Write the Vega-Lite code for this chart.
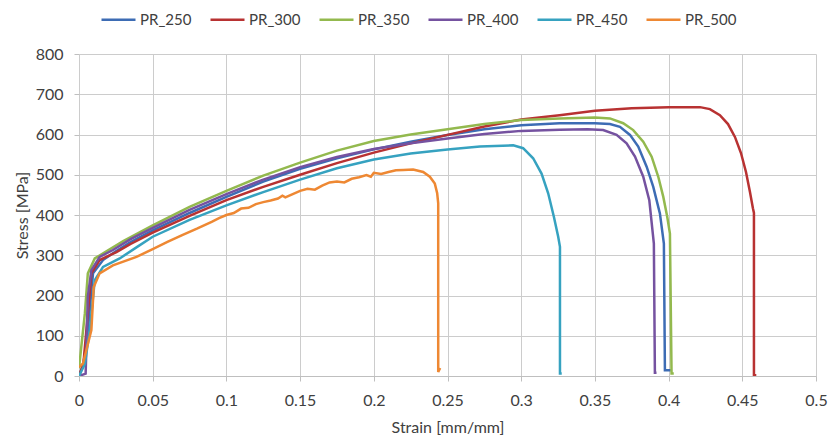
{
  "$schema": "https://vega.github.io/schema/vega-lite/v6.json",
  "width": 737,
  "height": 322,
  "autosize": {"type": "none"},
  "padding": {"left": 79, "top": 54, "right": 12, "bottom": 62},
  "background": "white",
  "config": {
    "view": {"stroke": null},
    "font": "Lato",
    "axis": {"labelFont": "Lato", "titleFont": "Lato", "labelFontSize": 16, "titleFontSize": 16, "titleFontWeight": "normal", "labelColor": "#404040", "titleColor": "#404040", "gridColor": "#cccccc", "domainColor": "#bfbfbf", "tickColor": "#bfbfbf", "tickSize": 5},
    "legend": {"labelFont": "Lato", "labelFontSize": 15, "labelColor": "#404040"}
  },
  "datasets": {
    "curves": [
      {"s":"PR_250","i":0,"x":0,"y":0},{"s":"PR_250","i":1,"x":0.003,"y":30},{"s":"PR_250","i":2,"x":0.006,"y":114},{"s":"PR_250","i":3,"x":0.0095,"y":255},{"s":"PR_250","i":4,"x":0.0163,"y":288},{"s":"PR_250","i":5,"x":0.025,"y":310},{"s":"PR_250","i":6,"x":0.035,"y":333},{"s":"PR_250","i":7,"x":0.05,"y":362},{"s":"PR_250","i":8,"x":0.075,"y":405},{"s":"PR_250","i":9,"x":0.1,"y":445},{"s":"PR_250","i":10,"x":0.125,"y":483},{"s":"PR_250","i":11,"x":0.15,"y":515},{"s":"PR_250","i":12,"x":0.175,"y":541},{"s":"PR_250","i":13,"x":0.2,"y":563},{"s":"PR_250","i":14,"x":0.225,"y":582},{"s":"PR_250","i":15,"x":0.25,"y":599},{"s":"PR_250","i":16,"x":0.275,"y":613},{"s":"PR_250","i":17,"x":0.3,"y":623},{"s":"PR_250","i":18,"x":0.326,"y":628},{"s":"PR_250","i":19,"x":0.35,"y":628},{"s":"PR_250","i":20,"x":0.3602,"y":626},{"s":"PR_250","i":21,"x":0.367,"y":619},{"s":"PR_250","i":22,"x":0.3738,"y":599},{"s":"PR_250","i":23,"x":0.3794,"y":570},{"s":"PR_250","i":24,"x":0.3851,"y":520},{"s":"PR_250","i":25,"x":0.3896,"y":470},{"s":"PR_250","i":26,"x":0.3941,"y":404},{"s":"PR_250","i":27,"x":0.3968,"y":329},{"s":"PR_250","i":28,"x":0.3975,"y":14},{"s":"PR_250","i":29,"x":0.4015,"y":14},

      {"s":"PR_300","i":0,"x":0,"y":0},{"s":"PR_300","i":1,"x":0.003,"y":30},{"s":"PR_300","i":2,"x":0.005,"y":114},{"s":"PR_300","i":3,"x":0.0084,"y":255},{"s":"PR_300","i":4,"x":0.014,"y":288},{"s":"PR_300","i":5,"x":0.0254,"y":308},{"s":"PR_300","i":6,"x":0.035,"y":328},{"s":"PR_300","i":7,"x":0.05,"y":356},{"s":"PR_300","i":8,"x":0.075,"y":398},{"s":"PR_300","i":9,"x":0.1,"y":437},{"s":"PR_300","i":10,"x":0.125,"y":470},{"s":"PR_300","i":11,"x":0.15,"y":500},{"s":"PR_300","i":12,"x":0.175,"y":529},{"s":"PR_300","i":13,"x":0.2,"y":555},{"s":"PR_300","i":14,"x":0.225,"y":578},{"s":"PR_300","i":15,"x":0.25,"y":599},{"s":"PR_300","i":16,"x":0.275,"y":620},{"s":"PR_300","i":17,"x":0.3,"y":637},{"s":"PR_300","i":18,"x":0.326,"y":648},{"s":"PR_300","i":19,"x":0.35,"y":659},{"s":"PR_300","i":20,"x":0.375,"y":665},{"s":"PR_300","i":21,"x":0.4,"y":668},{"s":"PR_300","i":22,"x":0.4213,"y":668},{"s":"PR_300","i":23,"x":0.428,"y":663},{"s":"PR_300","i":24,"x":0.4348,"y":648},{"s":"PR_300","i":25,"x":0.4403,"y":626},{"s":"PR_300","i":26,"x":0.445,"y":594},{"s":"PR_300","i":27,"x":0.4491,"y":554},{"s":"PR_300","i":28,"x":0.4525,"y":507},{"s":"PR_300","i":29,"x":0.4552,"y":457},{"s":"PR_300","i":30,"x":0.4572,"y":417},{"s":"PR_300","i":31,"x":0.4579,"y":405},{"s":"PR_300","i":32,"x":0.4579,"y":2},{"s":"PR_300","i":33,"x":0.4595,"y":2},

      {"s":"PR_350","i":0,"x":0,"y":19},{"s":"PR_350","i":1,"x":0.004,"y":156},{"s":"PR_350","i":2,"x":0.006,"y":255},{"s":"PR_350","i":3,"x":0.0107,"y":292},{"s":"PR_350","i":4,"x":0.0186,"y":310},{"s":"PR_350","i":5,"x":0.03,"y":335},{"s":"PR_350","i":6,"x":0.05,"y":374},{"s":"PR_350","i":7,"x":0.075,"y":420},{"s":"PR_350","i":8,"x":0.1,"y":460},{"s":"PR_350","i":9,"x":0.125,"y":498},{"s":"PR_350","i":10,"x":0.15,"y":530},{"s":"PR_350","i":11,"x":0.175,"y":560},{"s":"PR_350","i":12,"x":0.2,"y":584},{"s":"PR_350","i":13,"x":0.225,"y":600},{"s":"PR_350","i":14,"x":0.25,"y":613},{"s":"PR_350","i":15,"x":0.275,"y":626},{"s":"PR_350","i":16,"x":0.3,"y":636},{"s":"PR_350","i":17,"x":0.326,"y":640},{"s":"PR_350","i":18,"x":0.35,"y":642},{"s":"PR_350","i":19,"x":0.3602,"y":640},{"s":"PR_350","i":20,"x":0.3692,"y":628},{"s":"PR_350","i":21,"x":0.376,"y":611},{"s":"PR_350","i":22,"x":0.3828,"y":582},{"s":"PR_350","i":23,"x":0.3885,"y":545},{"s":"PR_350","i":24,"x":0.393,"y":495},{"s":"PR_350","i":25,"x":0.3964,"y":445},{"s":"PR_350","i":26,"x":0.3991,"y":395},{"s":"PR_350","i":27,"x":0.4009,"y":354},{"s":"PR_350","i":28,"x":0.402,"y":6},{"s":"PR_350","i":29,"x":0.4035,"y":6},

      {"s":"PR_400","i":0,"x":0,"y":0},{"s":"PR_400","i":1,"x":0.0045,"y":6},{"s":"PR_400","i":2,"x":0.006,"y":197},{"s":"PR_400","i":3,"x":0.0084,"y":263},{"s":"PR_400","i":4,"x":0.014,"y":296},{"s":"PR_400","i":5,"x":0.023,"y":313},{"s":"PR_400","i":6,"x":0.035,"y":340},{"s":"PR_400","i":7,"x":0.05,"y":368},{"s":"PR_400","i":8,"x":0.075,"y":413},{"s":"PR_400","i":9,"x":0.1,"y":452},{"s":"PR_400","i":10,"x":0.125,"y":488},{"s":"PR_400","i":11,"x":0.15,"y":519},{"s":"PR_400","i":12,"x":0.175,"y":544},{"s":"PR_400","i":13,"x":0.2,"y":564},{"s":"PR_400","i":14,"x":0.225,"y":578},{"s":"PR_400","i":15,"x":0.25,"y":590},{"s":"PR_400","i":16,"x":0.275,"y":601},{"s":"PR_400","i":17,"x":0.3,"y":609},{"s":"PR_400","i":18,"x":0.326,"y":612},{"s":"PR_400","i":19,"x":0.345,"y":613},{"s":"PR_400","i":20,"x":0.3556,"y":611},{"s":"PR_400","i":21,"x":0.3647,"y":599},{"s":"PR_400","i":22,"x":0.3715,"y":578},{"s":"PR_400","i":23,"x":0.3772,"y":545},{"s":"PR_400","i":24,"x":0.3828,"y":495},{"s":"PR_400","i":25,"x":0.3869,"y":437},{"s":"PR_400","i":26,"x":0.39,"y":329},{"s":"PR_400","i":27,"x":0.3907,"y":8},{"s":"PR_400","i":28,"x":0.3918,"y":8},

      {"s":"PR_450","i":0,"x":0,"y":0},{"s":"PR_450","i":1,"x":0.004,"y":30},{"s":"PR_450","i":2,"x":0.0073,"y":114},{"s":"PR_450","i":3,"x":0.0107,"y":238},{"s":"PR_450","i":4,"x":0.0163,"y":271},{"s":"PR_450","i":5,"x":0.0276,"y":292},{"s":"PR_450","i":6,"x":0.04,"y":322},{"s":"PR_450","i":7,"x":0.05,"y":346},{"s":"PR_450","i":8,"x":0.075,"y":388},{"s":"PR_450","i":9,"x":0.1,"y":424},{"s":"PR_450","i":10,"x":0.125,"y":457},{"s":"PR_450","i":11,"x":0.15,"y":488},{"s":"PR_450","i":12,"x":0.175,"y":516},{"s":"PR_450","i":13,"x":0.2,"y":538},{"s":"PR_450","i":14,"x":0.225,"y":553},{"s":"PR_450","i":15,"x":0.25,"y":563},{"s":"PR_450","i":16,"x":0.272,"y":570},{"s":"PR_450","i":17,"x":0.2946,"y":573},{"s":"PR_450","i":18,"x":0.3013,"y":566},{"s":"PR_450","i":19,"x":0.3081,"y":541},{"s":"PR_450","i":20,"x":0.3138,"y":503},{"s":"PR_450","i":21,"x":0.3183,"y":454},{"s":"PR_450","i":22,"x":0.3222,"y":395},{"s":"PR_450","i":23,"x":0.3251,"y":346},{"s":"PR_450","i":24,"x":0.3263,"y":321},{"s":"PR_450","i":25,"x":0.3263,"y":6},{"s":"PR_450","i":26,"x":0.3275,"y":6},

      {"s":"PR_500","i":0,"x":0,"y":22},{"s":"PR_500","i":1,"x":0.0027,"y":31},{"s":"PR_500","i":2,"x":0.0084,"y":114},{"s":"PR_500","i":3,"x":0.01,"y":221},{"s":"PR_500","i":4,"x":0.014,"y":255},{"s":"PR_500","i":5,"x":0.023,"y":275},{"s":"PR_500","i":6,"x":0.039,"y":296},{"s":"PR_500","i":7,"x":0.05,"y":315},{"s":"PR_500","i":8,"x":0.06,"y":333},{"s":"PR_500","i":9,"x":0.07,"y":350},{"s":"PR_500","i":10,"x":0.08,"y":366},{"s":"PR_500","i":11,"x":0.09,"y":383},{"s":"PR_500","i":12,"x":0.095,"y":392},{"s":"PR_500","i":13,"x":0.1,"y":400},{"s":"PR_500","i":14,"x":0.105,"y":405},{"s":"PR_500","i":15,"x":0.11,"y":416},{"s":"PR_500","i":16,"x":0.115,"y":418},{"s":"PR_500","i":17,"x":0.12,"y":427},{"s":"PR_500","i":18,"x":0.125,"y":432},{"s":"PR_500","i":19,"x":0.13,"y":436},{"s":"PR_500","i":20,"x":0.135,"y":441},{"s":"PR_500","i":21,"x":0.138,"y":448},{"s":"PR_500","i":22,"x":0.14,"y":444},{"s":"PR_500","i":23,"x":0.145,"y":452},{"s":"PR_500","i":24,"x":0.15,"y":460},{"s":"PR_500","i":25,"x":0.155,"y":465},{"s":"PR_500","i":26,"x":0.16,"y":463},{"s":"PR_500","i":27,"x":0.165,"y":473},{"s":"PR_500","i":28,"x":0.17,"y":481},{"s":"PR_500","i":29,"x":0.175,"y":483},{"s":"PR_500","i":30,"x":0.18,"y":481},{"s":"PR_500","i":31,"x":0.185,"y":490},{"s":"PR_500","i":32,"x":0.19,"y":494},{"s":"PR_500","i":33,"x":0.195,"y":499},{"s":"PR_500","i":34,"x":0.198,"y":495},{"s":"PR_500","i":35,"x":0.2,"y":505},{"s":"PR_500","i":36,"x":0.205,"y":502},{"s":"PR_500","i":37,"x":0.21,"y":507},{"s":"PR_500","i":38,"x":0.215,"y":511},{"s":"PR_500","i":39,"x":0.22,"y":512},{"s":"PR_500","i":40,"x":0.2267,"y":513},{"s":"PR_500","i":41,"x":0.2335,"y":507},{"s":"PR_500","i":42,"x":0.238,"y":495},{"s":"PR_500","i":43,"x":0.2414,"y":478},{"s":"PR_500","i":44,"x":0.243,"y":454},{"s":"PR_500","i":45,"x":0.2437,"y":429},{"s":"PR_500","i":46,"x":0.2437,"y":10},{"s":"PR_500","i":47,"x":0.245,"y":20}
    ]
  },
  "data": {"name": "curves"},
  "mark": {"type": "line", "strokeWidth": 2.5, "clip": true},
  "encoding": {
    "x": {"field": "x", "type": "quantitative", "scale": {"domain": [0, 0.5], "nice": false, "zero": true},
      "axis": {"title": "Strain [mm/mm]", "values": [0, 0.05, 0.1, 0.15, 0.2, 0.25, 0.3, 0.35, 0.4, 0.45, 0.5], "format": "~g", "labelPadding": 11, "titlePadding": 11, "labelFlush": false}},
    "y": {"field": "y", "type": "quantitative", "scale": {"domain": [0, 800], "nice": false},
      "axis": {"title": "Stress [MPa]", "values": [0, 100, 200, 300, 400, 500, 600, 700, 800], "labelPadding": 11, "titlePadding": 5, "domain": false}},
    "color": {"field": "s", "type": "nominal",
      "scale": {"domain": ["PR_250", "PR_300", "PR_350", "PR_400", "PR_450", "PR_500"], "range": ["#3d6cb4", "#b83232", "#93b94e", "#7552a0", "#36a2c0", "#ee8833"]},
      "legend": {"title": null, "orient": "none", "direction": "horizontal", "legendX": 21, "legendY": -53, "symbolType": "stroke", "symbolSize": 1156, "symbolStrokeWidth": 2.5, "labelOffset": 3, "columnPadding": 13}},
    "order": {"field": "i", "type": "quantitative"}
  }
}
